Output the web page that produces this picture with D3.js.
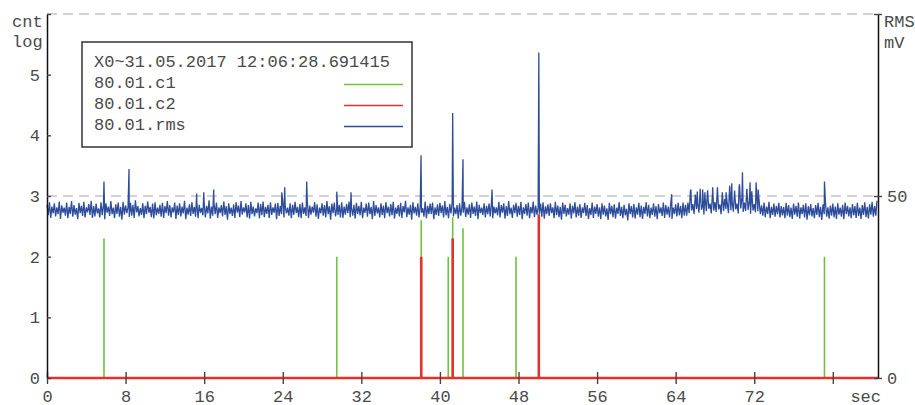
<!DOCTYPE html>
<html>
<head>
    <meta charset="utf-8">
    <title>cnt log / RMS</title>
    <script src="https://d3js.org/d3.v7.min.js"></script>
    <style>
        body { margin: 0; background: #fff; }
        text { font-family: "Liberation Mono", "Courier New", monospace; font-size: 17px; fill: #4a4a4a; }
    </style>
</head>
<body>
    <div id="chart"></div>

    <script>
        // x ticks (sec) and axis ticks
        const xTicks = [0, 8, 16, 24, 32, 40, 48, 56, 64, 72, 80];
        const yLeftTicks = [0, 1, 2, 3, 4, 5, 6];
        const yRightTicks = [0, 50, 100];

        // legend rows
        const legendTitle = "X0~31.05.2017 12:06:28.691415";
        const seriesNames = ["80.01.c1", "80.01.c2", "80.01.rms"];
        const seriesColors = ["#6fc13f", "#e3322b", "#2d4c9c"];

        // c1 / c2 counts (log), as impulses
        const c1Times = [5.8, 29.5, 38.1, 40.85, 41.3, 42.35, 47.75, 79.15];
        const c1Values = [2.3, 2.0, 2.6, 2.0, 2.65, 2.47, 2.0, 2.0];
        const c2Times = [38.1, 41.3, 50.07];
        const c2Values = [2.0, 2.3, 2.7];

        // rms in mV, samples at 0, 0.25, 0.5 ... s (upper swings)
        const rmsStep = 0.25;
        const rmsValues = [
            47.6,48.3,47.1,48.0,46.9,48.5,47.4,46.8,48.2,47.0,48.6,47.5,46.7,48.1,47.3,48.4,46.9,47.8,48.7,47.2,
            47.9,46.6,48.3,47.5,48.0,47.1,48.6,46.8,47.7,48.2,47.0,48.4,47.4,46.9,48.1,47.6,48.8,47.2,46.7,48.0,
            47.3,48.5,47.0,47.9,48.3,46.8,47.6,48.1,47.2,48.6,47.5,46.9,48.2,47.4,48.0,47.1,48.7,46.8,47.7,48.3,
            47.0,48.4,47.6,46.7,48.1,47.3,48.8,47.1,47.9,48.2,46.9,47.5,48.5,47.2,48.0,46.8,47.7,48.3,47.4,48.6,
            46.9,48.0,47.5,48.4,47.1,46.6,48.2,47.8,48.5,47.0,47.6,48.3,46.9,47.9,48.1,47.3,48.6,47.2,46.8,48.0,
            47.6,48.4,47.0,47.8,48.2,46.9,48.5,47.4,47.1,48.3,47.7,46.8,48.0,47.5,48.6,47.2,47.9,48.2,46.7,47.6,
            48.3,47.1,47.8,48.5,46.9,47.6,48.1,47.3,48.4,46.8,47.9,48.2,47.0,48.6,47.5,46.9,48.0,47.4,48.3,47.1,
            47.8,48.4,46.8,47.5,48.1,47.2,48.7,46.9,47.6,48.3,47.0,48.0,47.4,46.7,48.5,47.3,47.9,48.2,46.9,47.7,
            48.1,47.4,48.6,47.0,47.8,48.3,46.8,47.5,48.0,47.2,48.4,46.9,47.7,48.2,47.1,48.5,47.6,46.8,48.0,47.3,
            47.9,48.3,47.1,46.9,48.4,47.5,48.0,47.2,48.6,46.8,47.6,48.1,47.3,48.4,46.9,47.8,48.2,47.0,48.5,47.4,
            46.8,47.9,48.3,47.2,47.7,48.0,46.9,48.4,47.4,47.0,48.2,47.6,46.7,48.0,47.3,48.3,47.1,47.8,46.9,48.1,
            47.5,46.7,48.2,47.1,47.8,46.9,48.0,47.4,46.6,48.1,47.3,47.7,46.8,48.3,47.0,47.6,46.5,48.0,47.2,47.8,
            46.9,48.1,47.4,47.0,48.3,47.6,46.8,48.0,47.2,47.8,46.9,48.2,47.5,47.1,48.0,46.8,47.7,48.1,47.3,48.2,
            47.6,48.2,51.2,47.8,50.4,48.0,52.0,47.6,49.5,51.6,47.9,50.8,48.3,52.4,47.7,51.0,49.2,48.1,52.8,48.4,
            51.5,47.9,53.2,49.6,48.2,52.0,48.5,51.3,47.8,50.2,48.6,47.4,48.2,47.1,48.4,47.0,47.9,47.3,48.1,47.2,
            47.0,48.1,47.5,46.8,47.9,47.3,48.2,46.9,47.6,48.0,47.2,47.8,46.7,47.5,48.1,47.0,47.7,48.3,46.9,47.4,
            47.9,47.1,48.0,46.8,47.6,48.2,47.3,46.9,47.8,47.2,48.1,46.8,47.5,48.3,47.0,47.7,48.4,47.2,48.7
        ];
        // rms in mV, samples at 0.125, 0.375, 0.625 ... s (lower swings)
        const rmsValuesB = [
            44.7,44.0,45.2,44.4,45.0,43.7,45.4,44.6,43.9,45.1,44.3,44.9,43.6,45.3,44.5,44.1,45.5,44.8,44.0,44.4,
            45.2,44.1,44.7,43.6,45.4,44.5,45.0,43.9,45.1,44.3,43.5,44.9,45.3,44.2,44.6,44.0,45.5,44.4,44.8,43.9,
            45.0,45.4,44.2,43.8,44.7,45.1,44.3,44.0,45.3,44.6,44.1,45.5,43.7,44.8,44.4,45.2,43.6,44.9,44.5,45.1,
            44.3,43.9,45.4,44.7,44.1,45.2,43.8,44.6,45.0,44.0,45.3,44.4,44.8,43.5,45.1,44.5,44.0,45.4,44.2,44.9,
            45.5,44.1,43.8,45.0,44.4,45.3,43.9,44.7,44.2,45.1,44.0,44.8,45.4,43.6,44.5,45.0,44.1,45.2,44.6,43.9,
            44.8,45.3,44.2,43.9,45.1,44.5,44.0,44.9,45.4,44.3,43.7,45.2,44.6,44.1,45.0,43.5,45.3,44.4,44.8,44.1,
            44.0,44.9,45.3,44.2,44.6,43.8,45.1,44.7,43.9,45.4,44.3,45.0,43.6,44.5,45.2,44.1,44.8,43.9,45.3,44.4,
            44.7,43.8,45.1,44.4,44.0,45.5,44.2,44.9,43.5,45.2,44.6,44.1,45.4,44.3,43.9,45.0,45.1,43.6,44.8,44.5,
            45.3,44.1,44.7,43.9,45.2,44.4,45.0,43.8,44.6,45.4,44.2,44.9,44.0,45.1,44.5,43.6,45.3,44.8,44.1,45.0,
            44.4,43.9,45.2,44.7,44.1,45.4,43.8,44.5,45.0,44.0,45.3,44.3,44.8,43.6,45.1,44.6,43.9,45.2,44.2,44.9,
            45.1,44.3,43.8,45.0,44.5,45.3,43.9,44.7,44.2,43.5,45.1,44.4,44.9,43.8,45.2,44.1,44.6,44.0,45.3,44.5,
            43.7,44.8,44.0,45.1,44.3,43.6,44.9,44.4,43.4,45.0,44.2,43.8,45.1,44.5,43.9,44.7,43.3,45.0,44.1,43.8,
            44.9,44.2,43.7,45.1,44.4,43.9,44.8,44.3,43.6,45.2,44.5,44.0,44.9,44.1,43.7,45.1,44.4,44.7,43.9,44.6,
            44.6,45.3,46.0,45.1,46.4,45.4,46.2,44.9,45.8,46.5,45.2,46.0,45.6,46.3,45.0,45.9,46.4,45.3,46.1,45.7,
            46.3,45.2,46.6,45.6,45.9,46.2,45.1,46.0,45.5,45.8,45.0,44.6,44.2,45.1,43.9,44.8,44.3,45.0,44.1,44.7,
            43.9,44.6,44.2,43.7,44.9,44.3,43.8,45.0,44.1,43.5,44.7,44.4,43.9,44.8,44.2,43.4,45.0,44.3,43.8,44.6,
            44.1,43.7,44.9,44.3,43.6,45.0,44.4,43.9,44.7,44.0,44.5,43.7,44.8,44.2,43.8,44.9,44.3,44.6
        ];
        // single-sample rms spikes
        const spikeTimes = [5.8, 8.35, 15.24, 15.96, 16.97, 23.9, 24.2, 26.44, 29.5, 30.95,
            38.08, 41.3, 42.35, 45.31, 50.07, 63.6,
            65.55, 66.2, 66.75, 66.98, 67.77, 69.13, 69.71, 70.46, 70.8, 71.24, 71.58, 72.19, 72.4, 79.15];
        const spikeValues = [54.0, 57.4, 50.7, 51.0, 51.8, 51.0, 52.4, 54.0, 51.2, 51.0,
            61.2, 72.8, 60.1, 51.8, 89.4, 50.5,
            51.8, 51.2, 51.8, 51.0, 52.4, 51.0, 53.5, 52.6, 56.5, 51.8, 53.8, 53.8, 51.8, 54.0];

        const width = 915, height = 405;
        const svg = d3.select("#chart").append("svg")
            .attr("width", width)
            .attr("height", height);

        const xMax = 84.6;
        const x = d3.scaleLinear().domain([0, xMax]).range([47, 878]);
        const yL = d3.scaleLinear().domain([0, 6]).range([378, 14]);
        const yR = d3.scaleLinear().domain([0, 100]).range([378, 14]);

        // dashed grid
        svg.selectAll(".grid")
            .data([6, 3])
            .enter().append("line")
            .attr("x1", x(0)).attr("x2", x(xMax))
            .attr("y1", d => yL(d)).attr("y2", d => yL(d))
            .attr("stroke", "#c4c4c4")
            .attr("stroke-width", 1.3)
            .attr("stroke-dasharray", "10,6");

        // impulses -> points
        function impulses(times, vals) {
            const pts = [{ t: 0, v: 0 }];
            times.forEach((t, i) => {
                pts.push({ t: t, v: 0 }, { t: t, v: vals[i] }, { t: t, v: 0 });
            });
            pts.push({ t: xMax, v: 0 });
            return pts.sort((a, b) => a.t - b.t);
        }

        const lineL = d3.line().x(d => x(d.t)).y(d => yL(d.v));
        const lineR = d3.line().x(d => x(d.t)).y(d => yR(d.v));

        svg.append("path")
            .datum(impulses(c1Times, c1Values))
            .attr("d", lineL)
            .attr("fill", "none")
            .attr("stroke", seriesColors[0])
            .attr("stroke-width", 1.6);

        svg.append("path")
            .datum(impulses(c2Times, c2Values))
            .attr("d", lineL)
            .attr("fill", "none")
            .attr("stroke", seriesColors[1])
            .attr("stroke-width", 2.6);

        // rms series: both sample sets and the spikes, in time order
        const rmsPts = rmsValues.map((v, i) => ({ t: i * rmsStep, v: v }))
            .concat(rmsValuesB.map((v, i) => ({ t: i * rmsStep + rmsStep / 2, v: v })))
            .concat(spikeTimes.map((t, i) => ({ t: t, v: spikeValues[i] })))
            .sort((a, b) => a.t - b.t);

        svg.append("path")
            .datum(rmsPts)
            .attr("d", lineR)
            .attr("fill", "none")
            .attr("stroke", seriesColors[2])
            .attr("stroke-width", 1.3)
            .attr("stroke-linejoin", "miter");

        // axes
        const xAxis = svg.append("g")
            .attr("transform", "translate(0,378)")
            .call(d3.axisBottom(x).tickValues(xTicks).tickSize(6).tickPadding(6).tickSizeOuter(0)
                .tickFormat(d => d === 80 ? "" : d));
        xAxis.select(".domain").remove();
        xAxis.selectAll(".tick line").attr("y1", -6).attr("stroke", "#444").attr("stroke-width", 1.4);

        const yAxisL = svg.append("g")
            .attr("transform", "translate(47,0)")
            .call(d3.axisLeft(yL).tickValues(yLeftTicks).tickSize(4).tickPadding(3).tickSizeOuter(0)
                .tickFormat(d => d < 6 ? d : ""));
        yAxisL.selectAll(".tick line").attr("x2", 4).attr("stroke", "#444").attr("stroke-width", 1.4);
        yAxisL.select(".domain").attr("stroke", "#111").attr("stroke-width", 1.5);

        const yAxisR = svg.append("g")
            .attr("transform", "translate(878,0)")
            .call(d3.axisRight(yR).tickValues(yRightTicks).tickSize(4).tickPadding(5).tickSizeOuter(0)
                .tickFormat(d => d < 100 ? d : ""));
        yAxisR.selectAll(".tick line").attr("x2", -4).attr("x1", 4).attr("stroke", "#444").attr("stroke-width", 1.4);
        yAxisR.select(".domain").attr("stroke", "#111").attr("stroke-width", 1.5);

        svg.selectAll(".tick text")
            .style("font-family", "'Liberation Mono', 'Courier New', monospace")
            .style("font-size", "17px")
            .attr("fill", "#4a4a4a");

        // axis titles
        svg.append("text").attr("x", 12).attr("y", 27).text("cnt");
        svg.append("text").attr("x", 12).attr("y", 47).text("log");
        svg.append("text").attr("x", 884).attr("y", 27).text("RMS");
        svg.append("text").attr("x", 884).attr("y", 48).text("mV");
        svg.append("text").attr("x", 881).attr("y", 402).attr("text-anchor", "end").text("sec");

        // legend
        const legend = svg.append("g");
        legend.append("rect")
            .attr("x", 82).attr("y", 42)
            .attr("width", 330).attr("height", 105)
            .attr("fill", "#fff")
            .attr("stroke", "#333")
            .attr("stroke-width", 1.5);
        legend.append("text").attr("x", 94).attr("y", 66.5).text(legendTitle);
        seriesNames.forEach((name, i) => {
            const yy = 87.5 + i * 21;
            legend.append("text").attr("x", 94).attr("y", yy).text(name);
            legend.append("line")
                .attr("x1", 344).attr("x2", 403)
                .attr("y1", yy - 3).attr("y2", yy - 3)
                .attr("stroke", seriesColors[i])
                .attr("stroke-width", 1.3);
        });
    </script>
</body>
</html>
